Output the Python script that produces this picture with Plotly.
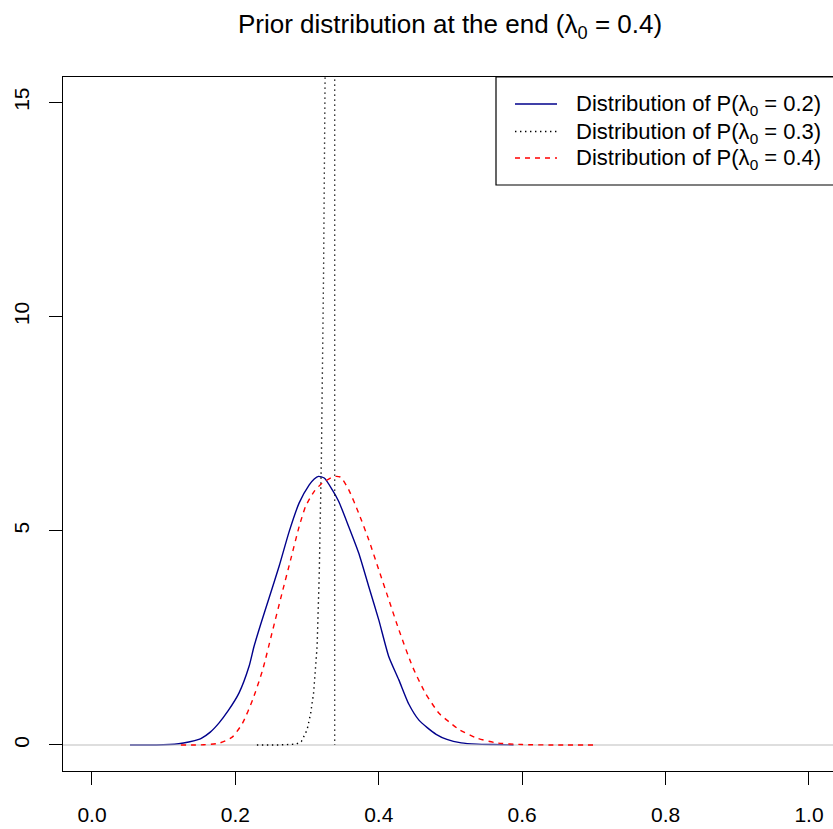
import plotly.graph_objects as go

# ---- data ----
blue_x = [0.053, 0.09, 0.121, 0.135, 0.149, 0.153, 0.165, 0.177, 0.190, 0.205, 0.219, 0.226, 0.235,
          0.247, 0.261, 0.275, 0.289, 0.303, 0.310, 0.316, 0.324, 0.335, 0.344, 0.358, 0.372, 0.386,
          0.400, 0.414, 0.428, 0.442, 0.456, 0.468, 0.480, 0.495, 0.515, 0.537, 0.560, 0.588]
blue_y = [0, 0, 0.03, 0.07, 0.13, 0.16, 0.30, 0.51, 0.80, 1.21, 1.83, 2.30, 2.80,
          3.43, 4.17, 4.98, 5.65, 6.07, 6.21, 6.27, 6.23, 5.96, 5.69, 5.10, 4.48, 3.70,
          2.92, 2.06, 1.52, 0.95, 0.58, 0.40, 0.25, 0.13, 0.05, 0.02, 0.01, 0]

black_x = [0.230, 0.260, 0.285, 0.292, 0.300, 0.305, 0.309, 0.314, 0.317, 0.320, 0.323, 0.3255,
           0.329, 0.336, 0.3385, 0.3385]
black_y = [0, 0, 0.02, 0.08, 0.35, 0.74, 1.2, 2.3, 4.0, 6.7, 11.0, 15.7, 24, 24, 16, 0]

red_x = [0.124, 0.156, 0.177, 0.196, 0.210, 0.224, 0.238, 0.251, 0.265, 0.277, 0.289, 0.298,
         0.310, 0.321, 0.335, 0.341, 0.347, 0.358, 0.372, 0.386, 0.400, 0.414, 0.428, 0.447,
         0.465, 0.484, 0.498, 0.513, 0.537, 0.564, 0.600, 0.650, 0.703]
red_y = [0, 0.005, 0.04, 0.19, 0.51, 1.05, 1.75, 2.61, 3.54, 4.32, 5.10, 5.57,
         5.92, 6.11, 6.25, 6.27, 6.25, 5.96, 5.41, 4.79, 4.09, 3.39, 2.69, 1.83,
         1.21, 0.74, 0.54, 0.35, 0.16, 0.05, 0.01, 0, 0]

x_ticks = [0.0, 0.2, 0.4, 0.6, 0.8, 1.0]
y_ticks = [0, 5, 10, 15]
legend_labels = ["Distribution of P(λ<sub>0</sub> = 0.2)",
                 "Distribution of P(λ<sub>0</sub> = 0.3)",
                 "Distribution of P(λ<sub>0</sub> = 0.4)"]
title_text = "Prior distribution at the end (λ<sub>0</sub> = 0.4)"

x_range = [-0.0404, 1.0335]
y_range = [-0.607, 15.59]

FONT = "Liberation Sans, Arial, Helvetica, sans-serif"
BLUE = "#00008B"
RED = "#FF0000"
BLACK = "#000000"
GRAY = "#BEBEBE"

fig = go.Figure()
fig.add_trace(go.Scatter(x=blue_x, y=blue_y, mode="lines",
                         line=dict(color=BLUE, width=1.4, shape="spline", smoothing=0.6),
                         showlegend=False))
fig.add_trace(go.Scatter(x=x_range, y=[0, 0], mode="lines",
                         line=dict(color=GRAY, width=1.2), showlegend=False))
fig.add_trace(go.Scatter(x=black_x, y=black_y, mode="lines",
                         line=dict(color=BLACK, width=1.4, dash="1.4px,3.6px"), showlegend=False))
fig.add_trace(go.Scatter(x=red_x, y=red_y, mode="lines",
                         line=dict(color=RED, width=1.4, dash="5px,5px", shape="spline", smoothing=0.6),
                         showlegend=False))

# custom R-style legend box (top-right, touching plot edges)
L, T, B, H = 63, 77, 771, 829
def px(xp):
    return (xp - L) / (833 - L)
def py(yp):
    return (B - yp) / (B - T)

fig.add_shape(type="rect", xref="paper", yref="paper",
              x0=px(496), x1=px(845), y0=py(185), y1=1,
              line=dict(color="black", width=1.2), fillcolor="white", layer="above")
leg_styles = [dict(color=BLUE, width=1.4),
              dict(color=BLACK, width=1.4, dash="1.4px,3.6px"),
              dict(color=RED, width=1.4, dash="5px,5px")]
leg_y = [104, 131.5, 158]
for lab, st, yy in zip(legend_labels, leg_styles, leg_y):
    fig.add_shape(type="line", xref="paper", yref="paper",
                  x0=px(515), x1=px(557), y0=py(yy), y1=py(yy), line=st, layer="above")
    fig.add_annotation(x=px(574), y=py(yy), xref="paper", yref="paper", text=lab,
                       showarrow=False, xanchor="left", yanchor="middle", yshift=-1,
                       font=dict(family=FONT, size=22, color="black"))

fig.update_layout(
    width=833, height=829,
    margin=dict(l=L, r=0, t=T, b=H - B, pad=0),
    paper_bgcolor="white", plot_bgcolor="white",
    font=dict(family=FONT, size=21, color="black"),
    title=dict(text=title_text, xref="container", yref="container",
               x=450 / 833, xanchor="center", y=1 - 24 / 829, yanchor="middle",
               font=dict(family=FONT, size=26, color="black")),
    showlegend=False,
)
fig.update_xaxes(range=x_range, tickvals=x_ticks, tickformat=".1f",
                 showgrid=False, zeroline=False, showline=True, linecolor="black",
                 linewidth=1.2, mirror=True, ticks="outside", ticklen=13, tickwidth=1.2,
                 tickcolor="black", ticklabelstandoff=12, automargin=False,
                 tickfont=dict(family=FONT, size=21, color="black"))
fig.update_yaxes(range=y_range, tickvals=y_ticks, tickangle=-90,
                 showgrid=False, zeroline=False, showline=True, linecolor="black",
                 linewidth=1.2, mirror=False, ticks="outside", ticklen=13, tickwidth=1.2,
                 tickcolor="black", ticklabelstandoff=12, automargin=False,
                 tickfont=dict(family=FONT, size=21, color="black"))

fig.write_html("out.html", config={"displayModeBar": False},
               post_script="document.body.style.margin='0';document.body.style.padding='0';")
